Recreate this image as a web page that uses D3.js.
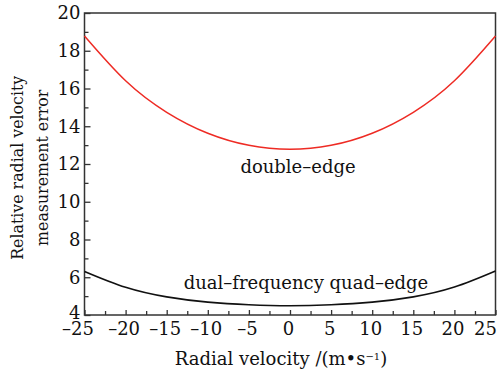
<!DOCTYPE html>
<html>
<head>
  <meta charset="utf-8">
  <title>Relative radial velocity measurement error</title>
  <script src="https://d3js.org/d3.v7.min.js"></script>
  <style>
    body { margin: 0; background: #fff; }
    svg text { font-family: "DejaVu Serif", serif; fill: #111; }
    .tick text { font-size: 18px; }
    .label { font-size: 18px; }
    .xtitle { font-size: 18px; }
    .ytitle { font-size: 15.8px; }
  </style>
</head>
<body>
  <svg id="chart"></svg>
  <script>
    // radial velocity (m/s) sampled every 5
    var velocity = [-25, -20, -15, -10, -5, 0, 5, 10, 15, 20, 25];
    // relative error
    var doubleEdge = [18.78, 16.41, 14.74, 13.63, 12.99, 12.78, 12.99, 13.63, 14.74, 16.41, 18.78];
    var quadEdge = [6.31, 5.47, 4.96, 4.68, 4.54, 4.49, 4.54, 4.68, 4.96, 5.48, 6.33];

    var xMajor = [-25, -20, -15, -10, -5, 0, 5, 10, 15, 20, 25];
    var xMinor = [-22.5, -17.5, -12.5, -7.5, -2.5, 2.5, 7.5, 12.5, 17.5, 22.5];
    var yMajor = [4, 6, 8, 10, 12, 14, 16, 18, 20];
    var yMinor = [5, 7, 9, 11, 13, 15, 17, 19];

    var width = 504, height = 375;
    var margin = { top: 13, right: 8.5, bottom: 60, left: 84.5 };

    var svg = d3.select("#chart")
      .attr("width", width)
      .attr("height", height);

    var x = d3.scaleLinear()
      .domain([-25, 25])
      .range([margin.left, width - margin.right]);

    var y = d3.scaleLinear()
      .domain([4, 20])
      .range([height - margin.bottom, margin.top]);

    // tick labels use a dash for the minus sign, like the original
    var fmt = function (d) { return String(d).replace("-", "–"); };

    // axes, ticks pointing inward
    var gx = svg.append("g")
      .attr("transform", "translate(0," + (height - margin.bottom) + ")");
    gx.call(d3.axisBottom(x).tickValues(xMajor).tickSize(-5).tickPadding(7).tickFormat(fmt));
    gx.selectAll(".tick text")
      .attr("text-anchor", function (d) { return d === 25 ? "end" : "middle"; })
      .attr("dx", function (d) { return d === 25 ? 1 : d === -25 ? -7 : -2; });
    svg.append("g")
      .attr("transform", "translate(0," + (height - margin.bottom) + ")")
      .call(d3.axisBottom(x).tickValues(xMinor).tickSize(-4).tickFormat(""));

    var gy = svg.append("g")
      .attr("transform", "translate(" + margin.left + ",0)");
    gy.call(d3.axisLeft(y).tickValues(yMajor).tickSize(-6).tickPadding(4));
    gy.selectAll(".tick text").filter(function (d) { return d === 4; }).attr("dy", "0.2em");
    svg.append("g")
      .attr("transform", "translate(" + margin.left + ",0)")
      .call(d3.axisLeft(y).tickValues(yMinor).tickSize(-4).tickFormat(""));

    svg.selectAll(".domain").remove();
    svg.selectAll(".tick line").attr("stroke", "#333").attr("stroke-width", 1.3);
    svg.selectAll(".tick text").attr("fill", "#111");

    // frame
    svg.append("rect")
      .attr("x", x(-25))
      .attr("y", y(20))
      .attr("width", x(25) - x(-25))
      .attr("height", y(4) - y(20))
      .attr("fill", "none")
      .attr("stroke", "#333")
      .attr("stroke-width", 1.5);

    var line = d3.line()
      .x(function (d, i) { return x(velocity[i]); })
      .y(function (d) { return y(d); })
      .curve(d3.curveNatural);

    svg.append("path")
      .datum(doubleEdge)
      .attr("d", line)
      .attr("fill", "none")
      .attr("stroke", "#ee2b24")
      .attr("stroke-width", 1.5);

    svg.append("path")
      .datum(quadEdge)
      .attr("d", line)
      .attr("fill", "none")
      .attr("stroke", "#111")
      .attr("stroke-width", 1.6);

    // curve labels
    svg.append("text")
      .attr("class", "label")
      .attr("x", 298)
      .attr("y", 173)
      .attr("text-anchor", "middle")
      .text("double–edge");

    svg.append("text")
      .attr("class", "label")
      .attr("x", 306)
      .attr("y", 289)
      .attr("text-anchor", "middle")
      .text("dual–frequency quad–edge");

    // axis titles
    var xt = svg.append("text")
      .attr("class", "xtitle")
      .attr("x", 281)
      .attr("y", 365)
      .attr("text-anchor", "middle");
    xt.append("tspan").text("Radial velocity /(m•s");
    xt.append("tspan").attr("baseline-shift", "super").attr("font-size", "10px").text("−1");
    xt.append("tspan").text(")");

    var yt = svg.append("text")
      .attr("class", "ytitle")
      .attr("transform", "translate(0," + y(11.8) + ") rotate(-90)")
      .attr("text-anchor", "middle");
    yt.append("tspan").attr("x", 0).attr("y", 23).text("Relative radial velocity");
    yt.append("tspan").attr("x", 0).attr("y", 48).text("measurement error");
  </script>
</body>
</html>
